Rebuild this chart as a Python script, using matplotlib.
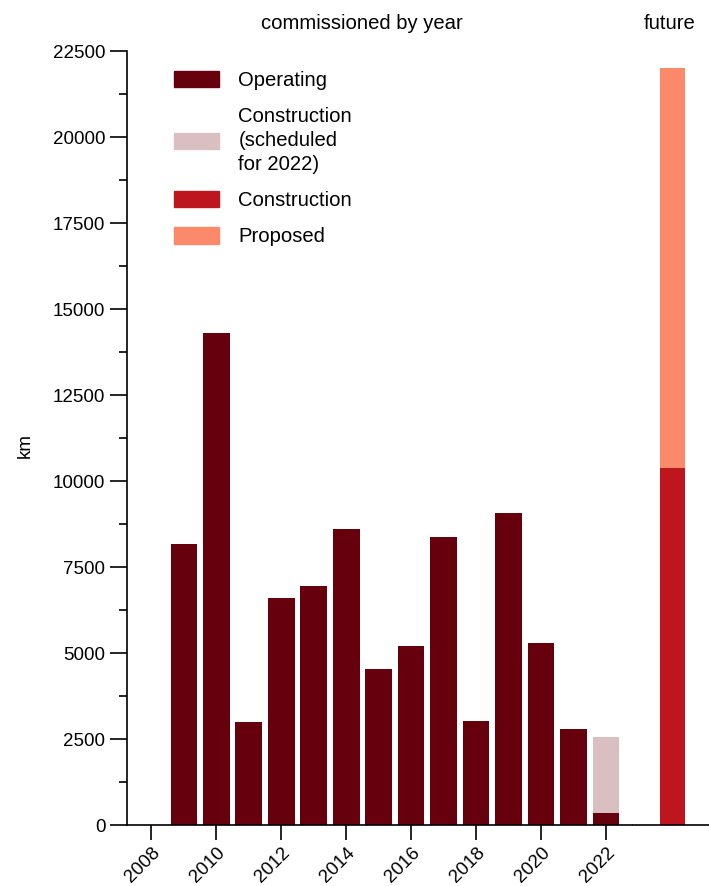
import matplotlib
matplotlib.use("Agg")
import matplotlib.pyplot as plt
from matplotlib.patches import Patch
from matplotlib.ticker import MultipleLocator

plt.rcParams['font.family'] = ['Liberation Sans', 'DejaVu Sans']

years = [2009, 2010, 2011, 2012, 2013, 2014, 2015, 2016, 2017, 2018, 2019, 2020, 2021, 2022]
operating = [8170, 14300, 3000, 6600, 6950, 8600, 4540, 5200, 8370, 3020, 9070, 5290, 2790, 350]
construction_2022 = [0, 0, 0, 0, 0, 0, 0, 0, 0, 0, 0, 0, 0, 2210]
future_construction = [10380]
future_proposed = [11620]
labels = ['Operating', 'Construction\n(scheduled\nfor 2022)', 'Construction', 'Proposed']
xticks = [2008, 2010, 2012, 2014, 2016, 2018, 2020, 2022]

c_oper = '#67000d'
c_sched = '#d9bfc2'
c_cons = '#bd161e'
c_prop = '#fc8a6a'

fs = 13.5
fs2 = 14.6
fig = plt.figure(figsize=(7.09, 8.86), dpi=100)
ax = fig.add_axes([0.1791, 0.0688, 0.7123, 0.8736])
ax2 = fig.add_axes([0.8928, 0.0688, 0.1072, 0.8736])

ax.bar(years, operating, width=0.82, color=c_oper)
ax.bar(years, construction_2022, width=0.82, bottom=operating, color=c_sched)
ax.set_xlim(2007.25, 2022.8)
ax.set_ylim(0, 22500)
ax.set_xticks(xticks)
ax.set_xticklabels([str(x) for x in xticks], rotation=45, ha='right', rotation_mode='anchor', fontsize=fs)
ax.yaxis.set_major_locator(MultipleLocator(2500))
ax.yaxis.set_minor_locator(MultipleLocator(1250))
ax.tick_params(axis='y', labelsize=fs, length=12, width=1.2, which='major')
ax.tick_params(axis='y', length=6, width=1.2, which='minor')
ax.tick_params(axis='x', length=11, width=1.2, pad=3)
for s in ['top', 'right']:
    ax.spines[s].set_visible(False)
for s in ['left', 'bottom']:
    ax.spines[s].set_linewidth(1.2)
ax.set_ylabel('km', fontsize=fs)
ax.yaxis.set_label_coords(-0.185, 0.49)
ax.text(0.465, 1.035, 'commissioned by year', transform=ax.transAxes, ha='center', va='center', fontsize=fs2)

ax2.bar([0], future_construction, width=0.8, color=c_cons)
ax2.bar([0], future_proposed, width=0.8, bottom=future_construction, color=c_prop)
ax2.set_xlim(-1.26, 1.17)
ax2.set_ylim(0, 22500)
ax2.set_xticks([])
ax2.set_yticks([])
for s in ['top', 'right', 'left']:
    ax2.spines[s].set_visible(False)
ax2.spines['bottom'].set_linewidth(1.2)
ax2.text(-0.1, 1.035, 'future', transform=ax2.get_xaxis_transform(), ha='center', va='center', fontsize=fs2)

handles = [Patch(color=c_oper), Patch(color=c_sched), Patch(color=c_cons), Patch(color=c_prop)]
leg = ax.legend(handles, labels, loc='upper left', bbox_to_anchor=(0.056, 0.998), frameon=False,
                fontsize=fs2, handlelength=2.25, handleheight=0.85, labelspacing=0.84, handletextpad=0.95)
for t in leg.get_texts():
    t.set_linespacing(1.34)

fig.savefig('out.png', dpi=100)
